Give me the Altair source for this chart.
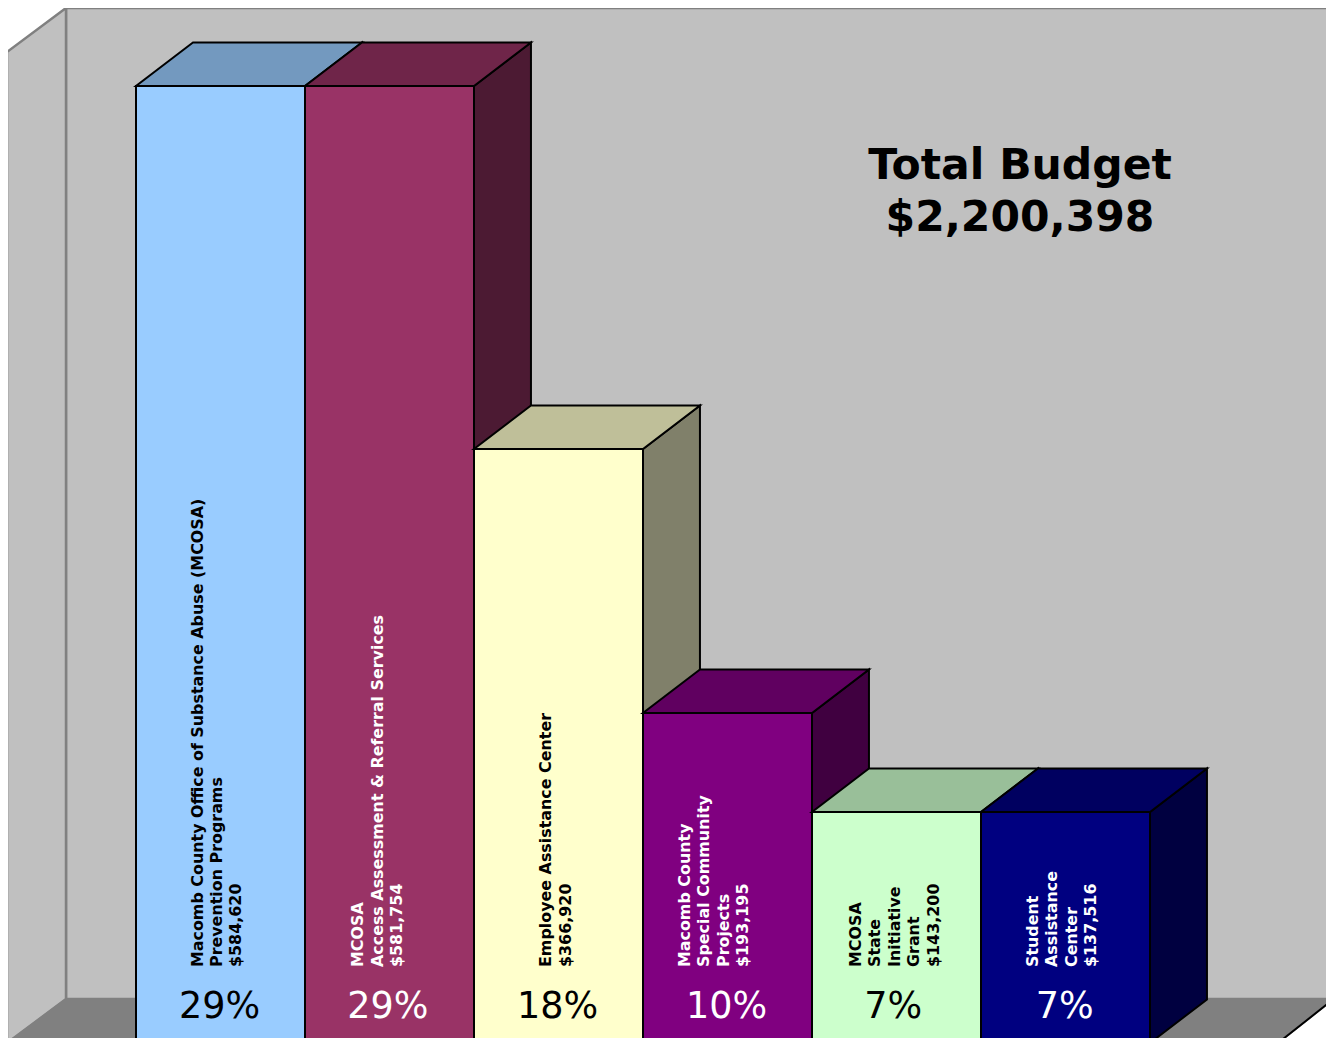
import altair as alt
import pandas as pd

# ---- chart values ----
percents = [29, 29, 18, 10, 7, 7]
percent_labels = ["29%", "29%", "18%", "10%", "7%", "7%"]
label_lines = [
    ["Macomb County Office of Substance Abuse (MCOSA)", "Prevention Programs", "$584,620"],
    ["MCOSA", "Access Assessment & Referral Services", "$581,754"],
    ["Employee Assistance Center", "$366,920"],
    ["Macomb County", "Special Community", "Projects", "$193,195"],
    ["MCOSA", "State", "Initiative", "Grant", "$143,200"],
    ["Student", "Assistance", "Center", "$137,516"],
]
title_lines = ["Total Budget", "$2,200,398"]

# ---- styles ----
front_colors = ["#99CCFF", "#993366", "#FFFFCC", "#800080", "#CCFFCC", "#000080"]
top_colors = ["#7399BF", "#6F2549", "#BFBF99", "#600060", "#99BF99", "#000060"]
side_colors = ["#5C7A99", "#4C1A33", "#80806A", "#400040", "#668066", "#000040"]
text_colors = ["black", "white", "black", "white", "black", "white"]
label_centers = [-0.02, -0.07, -0.015, -0.08, -0.01, -0.02]  # offset from bar centre, bar widths
percent_centers = [-0.005, -0.01, -0.005, -0.005, -0.02, -0.005]
LINE_GAP = 0.1145   # bar widths between label lines
DX = 0.337          # depth of the 3D box, in bar widths
DY = 1.32           # depth of the 3D box, in percent

# pixel frame of the picture: bar width, origin
BAR_W, X0, Y_PER_PCT, Y0 = 169.0, 136.0, 33.0, 1043.0
def xp(px):
    return (px - X0) / BAR_W
def yp(py):
    return (Y0 - py) / Y_PER_PCT

PAD_L, PAD_T = 4, 4
W, H = 1318 - PAD_L, 1030 - PAD_T
ox, oy = 8 + PAD_L, 8 + PAD_T
x_scale = alt.Scale(domain=[xp(ox), xp(ox + W)], nice=False, zero=False)
y_scale = alt.Scale(domain=[yp(oy + H), yp(oy)], nice=False, zero=False)


def X(f="x"):
    return alt.X(f"{f}:Q", scale=x_scale, axis=None)
def Y(f="y"):
    return alt.Y(f"{f}:Q", scale=y_scale, axis=None)


layers = []

# back wall
wall = dict(fill="#C0C0C0", stroke="#808080", strokeWidth=2.5)
layers.append(
    alt.Chart(pd.DataFrame({"x": [xp(66)], "x2": [xp(1345)], "y": [yp(999)], "y2": [yp(8)]}))
    .mark_rect(**wall)
    .encode(x=X(), x2="x2:Q", y=Y(), y2="y2:Q")
)
# left wall
layers.append(
    alt.Chart(pd.DataFrame({"x": [xp(7), xp(66)], "y": [yp(1043), yp(999)], "y2": [yp(52), yp(8)]}))
    .mark_area(orient="vertical", **wall)
    .encode(x=X(), y=Y(), y2="y2:Q")
)
# floor
layers.append(
    alt.Chart(pd.DataFrame({"y": [yp(1043), yp(999)], "x": [xp(7), xp(66)], "x2": [xp(1278), xp(1334)]}))
    .mark_area(orient="horizontal", fill="#808080", stroke="#808080", strokeWidth=1.5)
    .encode(y=Y(), x=X(), x2="x2:Q")
)
layers.append(
    alt.Chart(pd.DataFrame({"x": [xp(1278), xp(1340)], "y": [yp(1043), yp(994)]}))
    .mark_line(color="black", strokeWidth=2)
    .encode(x=X(), y=Y())
)

edge = dict(stroke="black", strokeWidth=2, strokeJoin="miter")
for i, v in enumerate(percents):
    side = pd.DataFrame({"x": [i + 1, i + 1 + DX], "y": [0, DY], "y2": [v, v + DY]})
    top = pd.DataFrame({"y": [v, v + DY], "x": [i, i + DX], "x2": [i + 1, i + 1 + DX]})
    front = pd.DataFrame({"x": [i], "x2": [i + 1], "y": [0], "y2": [v]})
    layers.append(alt.Chart(side).mark_area(orient="vertical", fill=side_colors[i], **edge)
                  .encode(x=X(), y=Y(), y2="y2:Q"))
    layers.append(alt.Chart(top).mark_area(orient="horizontal", fill=top_colors[i], **edge)
                  .encode(y=Y(), x=X(), x2="x2:Q"))
    layers.append(alt.Chart(front).mark_rect(fill=front_colors[i], **edge)
                  .encode(x=X(), x2="x2:Q", y=Y(), y2="y2:Q"))

# rotated labels
rows = []
for i, lines in enumerate(label_lines):
    n = len(lines)
    for j, t in enumerate(lines):
        rows.append({"x": i + 0.5 + label_centers[i] + (j - (n - 1) / 2) * LINE_GAP,
                     "y": yp(967), "t": t, "c": text_colors[i]})
layers.append(
    alt.Chart(pd.DataFrame(rows))
    .mark_text(angle=270, align="left", baseline="middle", font="DejaVu Sans",
               fontWeight="bold", fontSize=15.9)
    .encode(x=X(), y=Y(), text="t:N", color=alt.Color("c:N", scale=None))
)

# percent labels
layers.append(
    alt.Chart(pd.DataFrame({
        "x": [i + 0.5 + d for i, d in enumerate(percent_centers)],
        "y": [yp(1007)] * 6, "t": percent_labels, "c": text_colors}))
    .mark_text(align="center", baseline="middle", font="DejaVu Sans", fontSize=36.5)
    .encode(x=X(), y=Y(), text="t:N", color=alt.Color("c:N", scale=None))
)

# total budget
layers.append(
    alt.Chart(pd.DataFrame({"x": [xp(1020)] * 2, "y": [yp(166), yp(218)], "t": title_lines}))
    .mark_text(align="center", baseline="middle", font="DejaVu Sans", fontWeight="bold",
               fontSize=42.5, color="black")
    .encode(x=X(), y=Y(), text="t:N")
)

chart = (
    alt.layer(*layers)
    .resolve_scale(color="independent")
    .properties(width=W, height=H, background="white",
                padding={"left": PAD_L, "top": PAD_T, "right": 0, "bottom": 0},
                autosize=alt.AutoSizeParams(type="none"))
    .configure_view(stroke=None)
)
chart.save("out.html", embed_options={"renderer": "svg", "actions": False})
